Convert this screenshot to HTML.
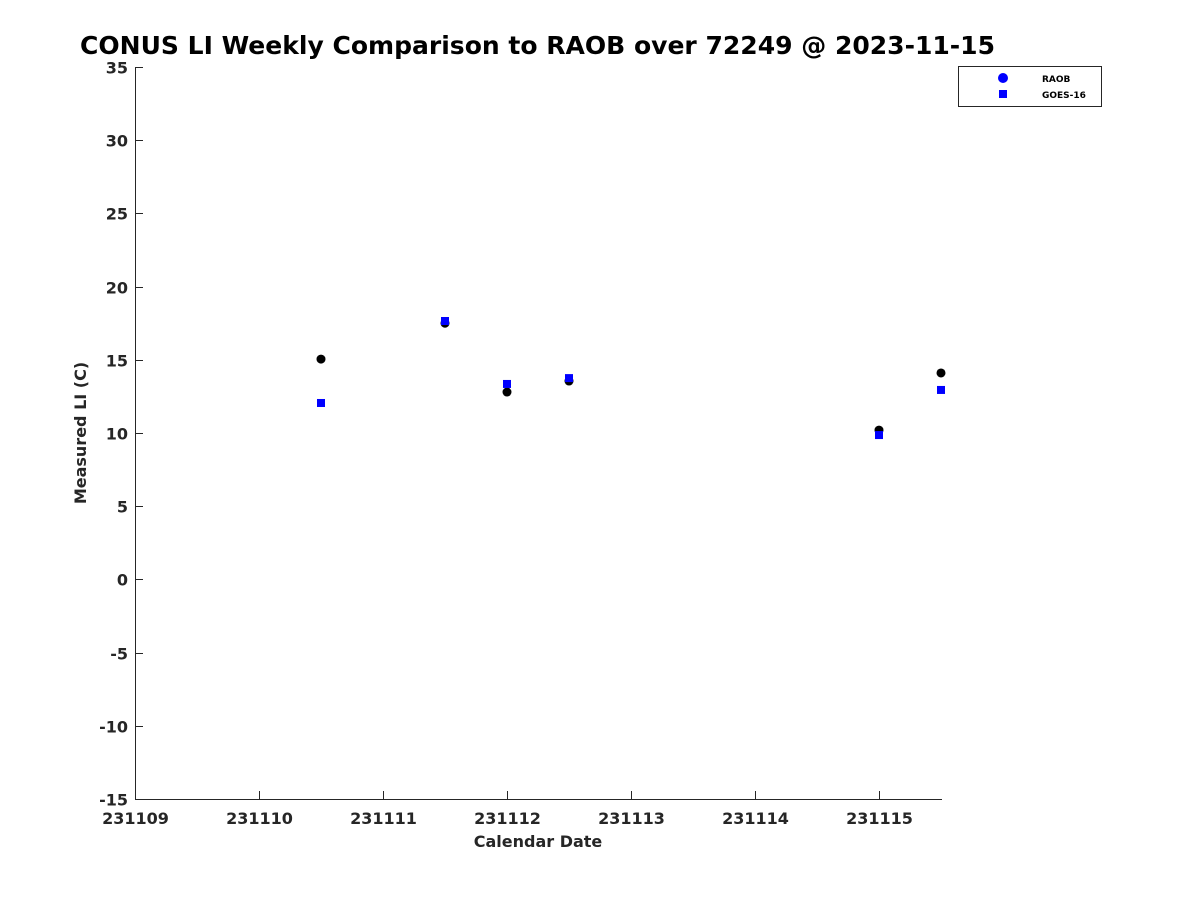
<!DOCTYPE html>
<html><head><meta charset="utf-8"><style>
body{margin:0;background:#fff}
svg text{font-family:"DejaVu Sans","Liberation Sans",sans-serif;font-weight:bold;fill:#262626}
</style></head><body>
<svg id="chart" width="1200" height="900" xmlns="http://www.w3.org/2000/svg">
<rect width="1200" height="900" fill="#fff"/>
<text x="80" y="54" font-size="25" textLength="915" lengthAdjust="spacingAndGlyphs" style="fill:#000">CONUS LI Weekly Comparison to RAOB over 72249 @ 2023-11-15</text>
<g id="axes"></g>
<g id="marks"></g>
<text x="538" y="847" text-anchor="middle" font-size="16">Calendar Date</text>
<text transform="translate(86,433) rotate(-90)" text-anchor="middle" font-size="16">Measured LI (C)</text>
<g>
<rect x="958.5" y="66.5" width="143" height="40" fill="#fff" stroke="#262626" stroke-width="1"/>
<circle cx="1003" cy="78" r="5" fill="#0000ff"/>
<text x="1042" y="82" font-size="9" style="fill:#000">RAOB</text>
<rect x="999" y="90" width="8" height="8" fill="#0000ff"/>
<text x="1042" y="98" font-size="9" style="fill:#000">GOES-16</text>
</g>
</svg>
<script>
const xTicks=[9,10,11,12,13,14,15];
const xTickLabels=["231109","231110","231111","231112","231113","231114","231115"];
const yTicks=[35,30,25,20,15,10,5,0,-5,-10,-15];
const dates=[10.5,11.5,12.0,12.5,15.0,15.5];
const raob=[15.05,17.5,12.8,13.55,10.2,14.1];
const goes=[12.05,17.65,13.35,13.75,9.86,12.94];
const NS="http://www.w3.org/2000/svg";
const X=v=>135+(v-9)*124;
const Y=v=>799-(v+15)*14.64;
function mk(t,a,p){const e=document.createElementNS(NS,t);for(const k in a)e.setAttribute(k,a[k]);p.appendChild(e);return e;}
const ax=document.getElementById('axes'),mg=document.getElementById('marks');
let l=mk('line',{x1:135.5,y1:Y(35),x2:135.5,y2:Y(-15)+0.5,stroke:'#262626'},ax);


l=mk('line',{x1:135,y1:799.5,x2:X(15.5)+1,y2:799.5,stroke:'#262626'},ax);


yTicks.forEach(v=>{const y=Math.round(Y(v))+0.5;
 mk('line',{x1:135,y1:y,x2:143,y2:y,stroke:'#262626'},ax);
 const t=mk('text',{x:128,y:y+6,'text-anchor':'end','font-size':16},ax);t.textContent=v;
 
 });
xTicks.forEach((v,i)=>{const x=Math.round(X(v))+0.5;
 mk('line',{x1:x,y1:799,x2:x,y2:791,stroke:'#262626'},ax);
 const t=mk('text',{x:x,y:824,'text-anchor':'middle','font-size':16},ax);t.textContent=xTickLabels[i];
 
 });
dates.forEach((d,i)=>{const c=mk('circle',{cx:X(d),cy:Y(raob[i]),r:4.5,fill:'#000'},mg);
 
 });
dates.forEach((d,i)=>{const r=mk('rect',{x:X(d)-4,y:Y(goes[i])-4,width:8,height:8,fill:'#0000ff'},mg);
 
 });
</script>
</body></html>
